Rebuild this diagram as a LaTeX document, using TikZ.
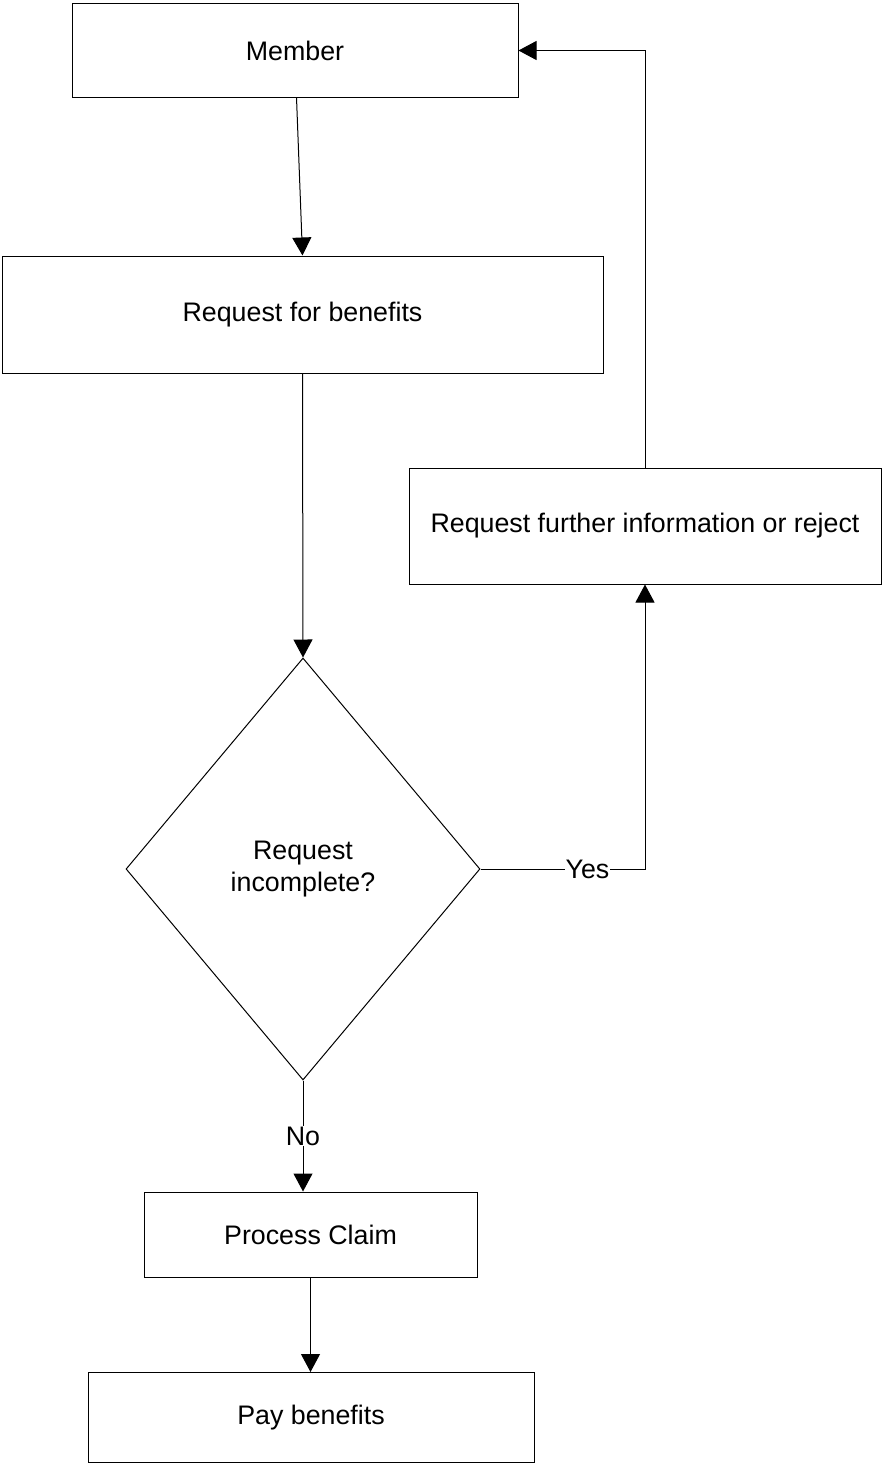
\documentclass[tikz,border=0pt]{standalone}
\usepackage{fontspec}
\setmainfont{Liberation Sans}
\usetikzlibrary{shapes.geometric,arrows.meta}
\begin{document}
\begin{tikzpicture}[x=1pt,y=-1pt,
  box/.style={draw=black,line width=1pt,rectangle,inner sep=0pt,font=\fontsize{26.8}{31}\selectfont},
  decision/.style={draw=black,line width=1pt,diamond,inner sep=0pt,align=center,font=\fontsize{26.8}{32}\selectfont},
  arr/.style={draw=black,line width=1pt,-{Triangle[width=19pt,length=18pt]}},
  lbl/.style={fill=white,inner sep=1pt,font=\fontsize{26.8}{31}\selectfont}]
\useasboundingbox (0,0) rectangle (882,1464);

% process boxes
\node[box,minimum width=446pt,minimum height=93pt] (member) at (295,50.5) {Member};
\node[box,minimum width=601pt,minimum height=117pt] (req) at (302.5,314.5) {Request for benefits};
\node[box,minimum width=472pt,minimum height=116pt] (rfi) at (645,526) {Request further information or reject};
\node[box,minimum width=333pt,minimum height=85pt] (pc) at (310.5,1234.5) {Process Claim};
\node[box,minimum width=446pt,minimum height=90pt] (pay) at (311,1417.5) {Pay benefits};

% decision
\node[decision,minimum width=354pt,minimum height=422pt] (dia) at (303,869) {Request\\incomplete?};

% connectors
\draw[arr] ([xshift=1.5pt]member.south) -- (req.north);
\draw[arr] (req.south) -- (dia.north);
\draw[arr] (dia.east) -- node[lbl,pos=0.65]{Yes} (dia.east -| rfi.south) -- (rfi.south);
\draw[arr] (rfi.north) |- (member.east);
\draw[arr] (dia.south) -- node[lbl]{No} (dia.south |- pc.north);
\draw[arr] (pc.south) -- (pc.south |- pay.north);
\end{tikzpicture}
\end{document}
